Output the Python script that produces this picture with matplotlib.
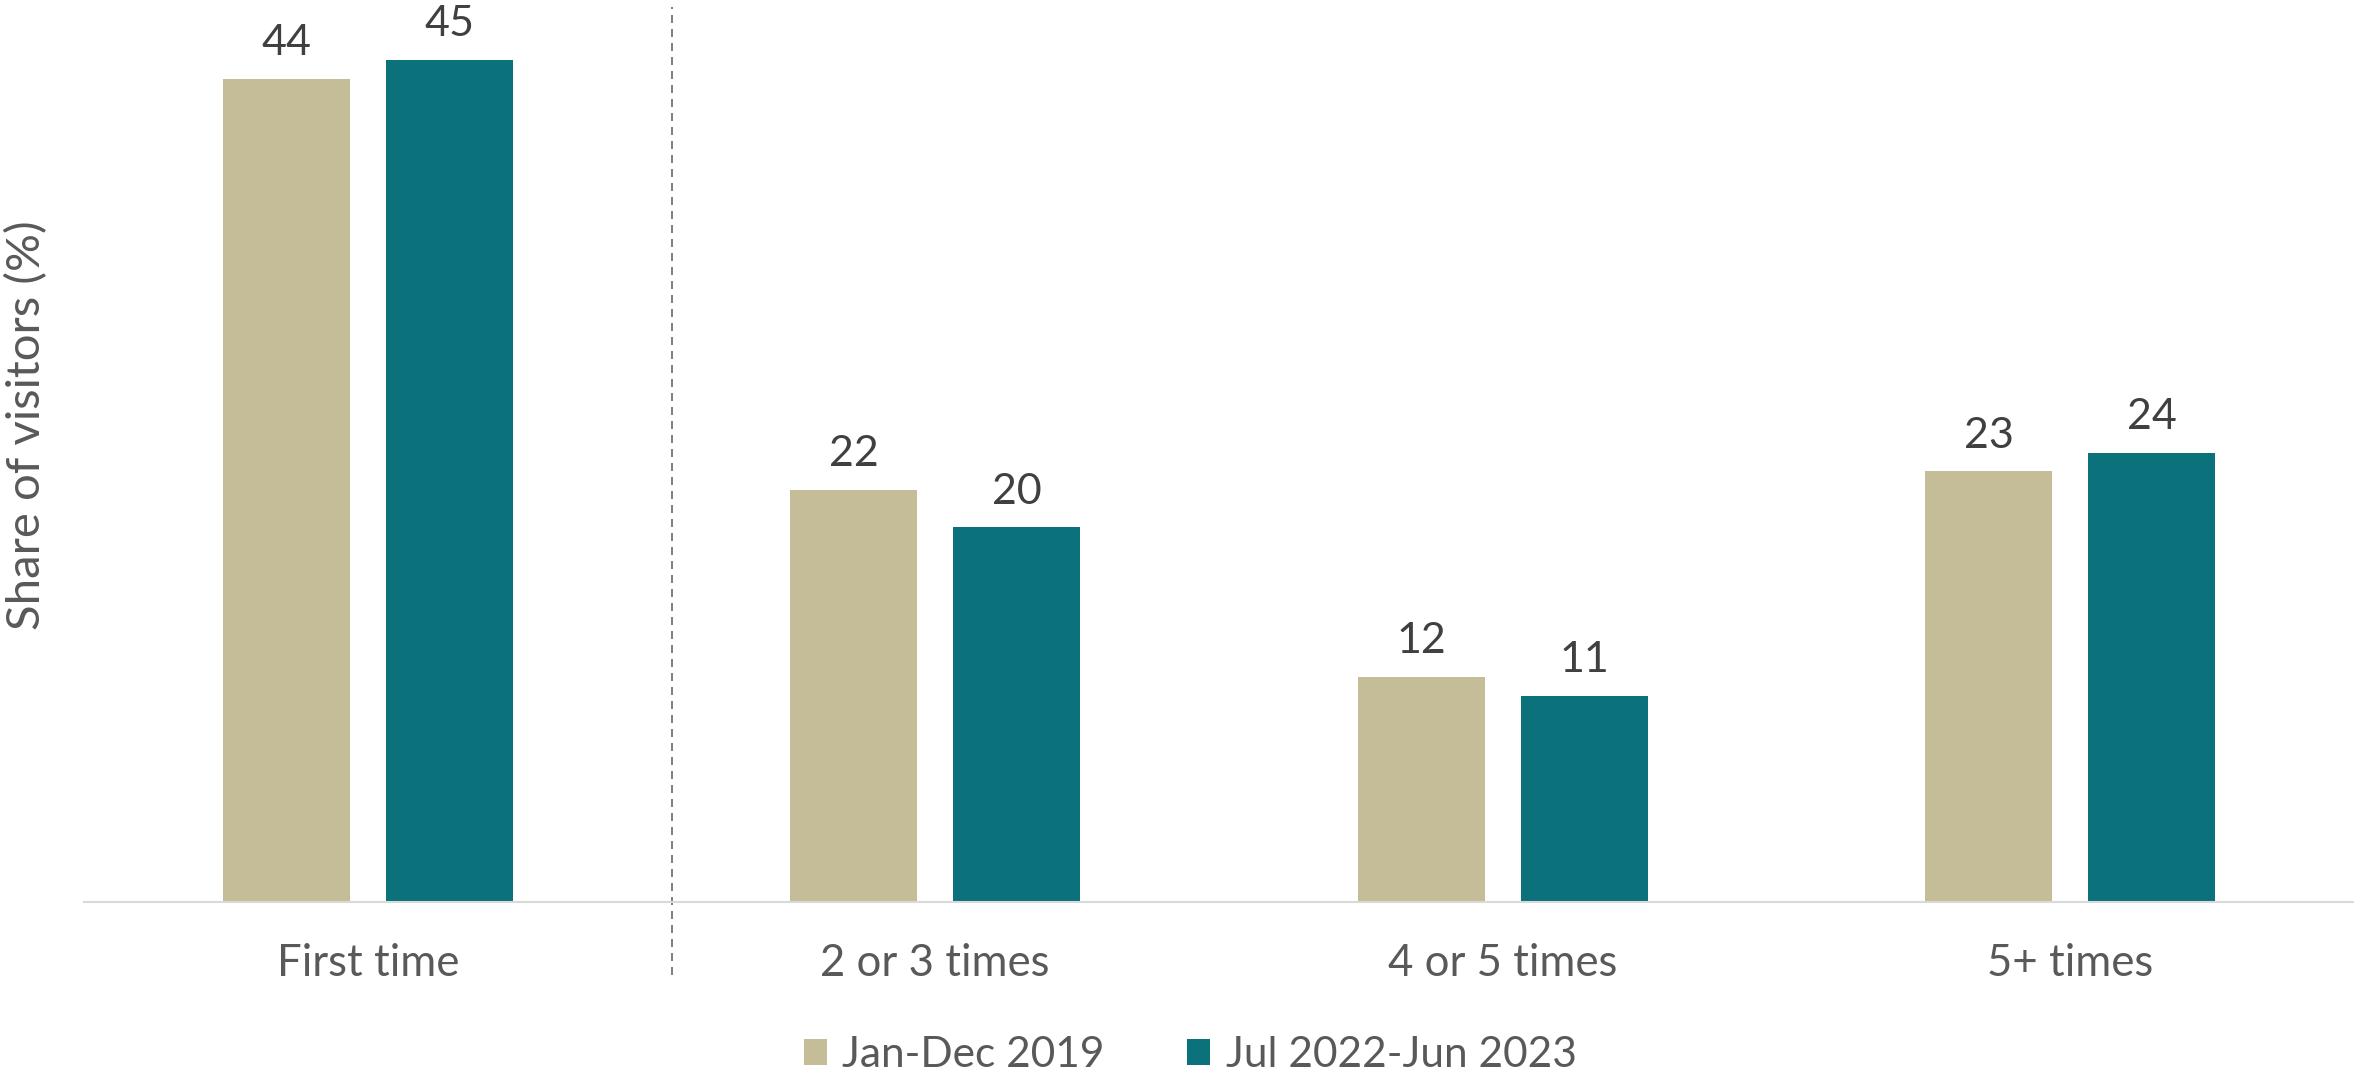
import matplotlib
matplotlib.use("Agg")
import matplotlib.pyplot as plt
import numpy as np

# Visit-frequency shares (%)
categories = ["First time", "2 or 3 times", "4 or 5 times", "5+ times"]
series_names = ["Jan-Dec 2019", "Jul 2022-Jun 2023"]
values_2019 = [44, 22, 12, 23]
values_2023 = [45, 20, 11, 24]

colors = ["#C4BD97", "#0B717A"]
label_color = "#595959"
value_color = "#404040"

plt.rcParams["font.family"] = ["Lato", "DejaVu Sans"]

W, H = 2354, 1074
fig = plt.figure(figsize=(W / 100, H / 100), dpi=100)
ax = fig.add_axes([84 / W, (H - 901.5) / H, 1 - 84 / W, 901.5 / H])

x = np.arange(len(categories))
width = 0.224
offset = 0.1435

for vals, off, col, name in zip([values_2019, values_2023], [-offset, offset],
                                colors, series_names):
    bars = ax.bar(x + off, vals, width=width, color=col, label=name, zorder=2)
    for rect, v in zip(bars, vals):
        ax.annotate(f"{v}", xy=(rect.get_x() + rect.get_width() / 2, rect.get_height()),
                    xytext=(0, 17), textcoords="offset points",
                    ha="center", va="baseline", fontsize=31, color=value_color)

ax.set_xlim(-0.5, len(categories) - 0.5)
ax.set_ylim(0, 48.2)

# Separator between first-time and repeat visitors
ax.plot([0.537, 0.537], [-3.93, 47.8], color="#808080", lw=1.44,
        linestyle=(0, (4, 3)), clip_on=False, zorder=1)

for side in ["top", "right", "left"]:
    ax.spines[side].set_visible(False)
ax.spines["bottom"].set_color("#D9D9D9")
ax.spines["bottom"].set_linewidth(1.5)

ax.set_xticks(x)
ax.set_xticklabels(categories, fontsize=31.5, color=label_color)
ax.tick_params(axis="x", length=0, pad=30)
ax.set_yticks([])

fig.text(27 / W, 1 - 425 / H, "Share of visitors (%)", rotation=90,
         ha="center", va="center", fontsize=34, color=label_color)

leg = fig.legend(loc="center", bbox_to_anchor=(1190 / W, 1 - 1055 / H), ncol=2,
                 frameon=False, fontsize=30.5, handlelength=0.55, handleheight=0.55,
                 handletextpad=0.36, columnspacing=1.95, borderpad=0, borderaxespad=0)
for t in leg.get_texts():
    t.set_color(label_color)

fig.savefig("out.png", dpi=100)
